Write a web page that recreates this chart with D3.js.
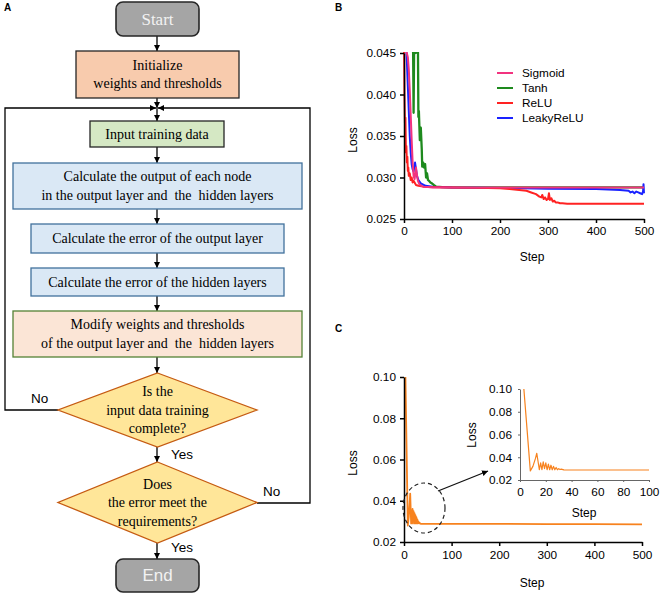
<!DOCTYPE html>
<html><head><meta charset="utf-8">
<script src="https://cdn.jsdelivr.net/npm/d3@7/dist/d3.min.js"></script>
<style>
body{margin:0;background:#fff;}
svg{display:block;}
.sans{font-family:"Liberation Sans",Arial,sans-serif;}
.serif{font-family:"Liberation Serif","Times New Roman",serif;}
</style></head>
<body>
<svg id="fig" width="660" height="595"></svg>
<script>
// ---------------- DATA ----------------
// Panel A flowchart texts
const flowTexts = {
  start: ["Start"],
  init: ["Initialize", "weights and thresholds"],
  input: ["Input training data"],
  calcOut: ["Calculate the output of each node", "in the output layer and  the  hidden layers"],
  errOut: ["Calculate the error of the output layer"],
  errHid: ["Calculate the error of the hidden layers"],
  modify: ["Modify weights and thresholds", "of the output layer and  the  hidden layers"],
  dec1: ["Is the", "input data training", "complete?"],
  dec2: ["Does", "the error meet the", "requirements?"],
  end: ["End"]
};
const branchLabels = ["No", "Yes", "No", "Yes"];

// Panel B: activation functions
const seriesNames = ["Sigmoid", "Tanh", "ReLU", "LeakyReLU"];
const sigmoidSteps = [2, 5, 8, 10, 12, 14, 16, 18, 20, 22, 24, 25, 27, 29, 32, 36, 40, 50, 60, 80, 100, 200, 300, 400, 500];
const sigmoidLoss  = [0.0465, 0.0452, 0.0445, 0.0430, 0.0405, 0.0375, 0.0345, 0.0318, 0.0302, 0.0298, 0.0306, 0.0312, 0.0303, 0.0296, 0.0292, 0.0290, 0.0289, 0.02885, 0.0288, 0.0288, 0.0288, 0.0288, 0.0288, 0.0288, 0.0288];
const tanhSteps = [18, 19, 20, 21, 22, 24, 26, 28, 29, 30, 31, 33, 35, 37, 38, 40, 42, 44, 46, 48, 50, 52, 55, 58, 62, 67, 80, 100, 200, 300, 400, 500];
const tanhLoss  = [0.0465, 0.0450, 0.0378, 0.0450, 0.0455, 0.0450, 0.0455, 0.0450, 0.0460, 0.0373, 0.0380, 0.0345, 0.0360, 0.0334, 0.0313, 0.0318, 0.0312, 0.0316, 0.0300, 0.0305, 0.0297, 0.0296, 0.0294, 0.0293, 0.0291, 0.0289, 0.02885, 0.0288, 0.0288, 0.0288, 0.0288, 0.0288];
const reluSteps = [0, 1, 2, 3, 4, 5, 6, 7, 8, 9, 10, 12, 14, 16, 18, 20, 25, 30, 40, 50, 100, 150, 200, 220, 240, 255, 265, 275, 282, 286, 288, 291, 294, 297, 300, 302, 304, 307, 310, 313, 316, 320, 325, 330, 340, 400, 450, 500];
const reluLoss  = [0.0465, 0.0400, 0.0365, 0.0372, 0.0330, 0.0338, 0.0318, 0.0325, 0.0308, 0.0312, 0.0302, 0.0305, 0.0297, 0.0300, 0.0294, 0.0296, 0.0291, 0.0290, 0.0289, 0.02885, 0.0288, 0.02875, 0.0287, 0.0286, 0.0285, 0.0284, 0.0282, 0.0280, 0.0277, 0.0276, 0.0279, 0.0274, 0.0276, 0.0273, 0.0274, 0.0281, 0.0273, 0.0275, 0.0271, 0.0272, 0.0270, 0.0270, 0.0269, 0.0269, 0.02685, 0.02685, 0.02685, 0.02685];
const leakySteps = [4, 6, 8, 10, 12, 14, 16, 18, 20, 22, 23, 25, 27, 30, 35, 45, 60, 100, 200, 300, 400, 450, 468, 472, 476, 480, 484, 488, 492, 496, 498, 499, 500];
const leakyLoss  = [0.0465, 0.0440, 0.0410, 0.0380, 0.0350, 0.0330, 0.0316, 0.0310, 0.0307, 0.0314, 0.0318, 0.0310, 0.0302, 0.0297, 0.0293, 0.0290, 0.0289, 0.0288, 0.02875, 0.02865, 0.0286, 0.02850, 0.0284, 0.0282, 0.0283, 0.0281, 0.0283, 0.0282, 0.0281, 0.0280, 0.0283, 0.0292, 0.0281];
const bYTicks = [0.025, 0.030, 0.035, 0.040, 0.045];
const bXTicks = [0, 100, 200, 300, 400, 500];

// Panel C: training loss
const cSteps = [3, 8, 10, 12, 13, 15, 16, 17, 18, 19, 20, 21, 22, 23, 24, 25, 26, 27, 28, 29, 30, 31, 32, 34, 36, 40, 50, 100, 200, 300, 400, 500];
const cLoss  = [0.100, 0.028, 0.032, 0.039, 0.0435, 0.029, 0.035, 0.029, 0.036, 0.030, 0.035, 0.029, 0.034, 0.029, 0.033, 0.029, 0.032, 0.029, 0.031, 0.029, 0.030, 0.0292, 0.0295, 0.0289, 0.0288, 0.0288, 0.0288, 0.0288, 0.0288, 0.0287, 0.0287, 0.0285];
const cYTicks = [0.02, 0.04, 0.06, 0.08, 0.10];
const cXTicks = [0, 100, 200, 300, 400, 500];
const insetXTicks = [0, 20, 40, 60, 80, 100];

// ---------------- DRAW ----------------
const svg = d3.select("#fig");
const defs = svg.append("defs");
defs.append("marker").attr("id", "arr").attr("viewBox", "0 0 10 10")
  .attr("refX", 10).attr("refY", 5).attr("markerWidth", 6).attr("markerHeight", 6)
  .attr("orient", "auto-start-reverse").attr("markerUnits", "userSpaceOnUse")
  .append("path").attr("d", "M0,0 L10,5 L0,10 z").attr("fill", "#000");

// panel letters
[["A", 4, 11], ["B", 335, 11], ["C", 335, 332]].forEach(([t, x, y]) =>
  svg.append("text").attr("class", "sans").attr("x", x).attr("y", y)
    .attr("font-size", 10).attr("font-weight", "bold").text(t));

// ---------- Panel A: flowchart ----------
const A = svg.append("g");
const cx = 157;
function box(x0, y0, x1, y1, fill, stroke, lines, opts = {}) {
  A.append("rect").attr("x", x0).attr("y", y0).attr("width", x1 - x0).attr("height", y1 - y0)
    .attr("rx", opts.rx || 0).attr("fill", fill).attr("stroke", stroke).attr("stroke-width", opts.sw || 1.3);
  const fs = opts.fs || 14, lh = opts.lh || 18;
  const cy = (y0 + y1) / 2;
  lines.forEach((l, i) => {
    A.append("text").attr("class", opts.cls || "serif").attr("x", (x0 + x1) / 2)
      .attr("y", cy + (i - (lines.length - 1) / 2) * lh)
      .attr("dy", "0.35em").attr("text-anchor", "middle").attr("font-size", fs)
      .attr("fill", opts.color || "#000").style("white-space", "pre").text(l);
  });
}
function diamond(x0, x1, y0, y1, lines) {
  const mx = (x0 + x1) / 2, my = (y0 + y1) / 2;
  A.append("path").attr("d", `M${mx},${y0} L${x1},${my} L${mx},${y1} L${x0},${my} Z`)
    .attr("fill", "#ffe699").attr("stroke", "#c55a11").attr("stroke-width", 1.3);
  lines.forEach((l, i) => A.append("text").attr("class", "serif").attr("x", mx)
    .attr("y", my + (i - 1) * 18.5).attr("dy", "0.35em").attr("text-anchor", "middle")
    .attr("font-size", 14).text(l));
}
function arrow(pts) {
  A.append("path").attr("d", d3.line()(pts)).attr("fill", "none").attr("stroke", "#000")
    .attr("stroke-width", 1.3).attr("marker-end", "url(#arr)");
}

// connectors
arrow([[cx, 36], [cx, 51]]);
arrow([[cx, 98], [cx, 108]]);
arrow([[cx, 108], [cx, 121]]);
arrow([[cx, 147], [cx, 163]]);
arrow([[cx, 209], [cx, 224]]);
arrow([[cx, 253], [cx, 268]]);
arrow([[cx, 296], [cx, 311]]);
arrow([[cx, 357], [cx, 373]]);
arrow([[cx, 447], [cx, 462]]);
arrow([[cx, 543], [cx, 559]]);
// loops
arrow([[58, 410], [5, 410], [5, 108], [cx - 1, 108]]);
arrow([[257, 503], [310, 503], [310, 108], [cx + 1, 108]]);

box(116, 2, 199, 36, "#a5a5a5", "#262626", flowTexts.start, { rx: 7, fs: 17, color: "#f2f2f2", sw: 1.6 });
box(76, 51, 239, 98, "#f8cbad", "#262626", flowTexts.init, { fs: 14, lh: 18 });
box(90, 121, 224, 147, "#d5e8c4", "#262626", flowTexts.input, { fs: 14 });
box(13, 163, 302, 209, "#dae8f5", "#41719c", flowTexts.calcOut, { fs: 14, lh: 19 });
box(31, 224, 284, 253, "#dae8f5", "#41719c", flowTexts.errOut, { fs: 14 });
box(31, 268, 284, 296, "#dae8f5", "#41719c", flowTexts.errHid, { fs: 14 });
box(13, 311, 302, 357, "#fbe5d6", "#548235", flowTexts.modify, { fs: 14, lh: 19 });
diamond(58, 257, 373, 447, flowTexts.dec1);
diamond(58, 257, 462, 543, flowTexts.dec2);
box(116, 559, 199, 592, "#a5a5a5", "#262626", flowTexts.end, { rx: 7, fs: 17, color: "#f2f2f2", cls: "sans", sw: 1.6 });

[[branchLabels[0], 31, 403], [branchLabels[1], 171, 459], [branchLabels[2], 263, 496], [branchLabels[3], 171, 552]]
  .forEach(([t, x, y]) => A.append("text").attr("class", "sans").attr("x", x).attr("y", y)
    .attr("font-size", 13.5).text(t));

// ---------- Panel B ----------
const B = svg.append("g").attr("class", "sans");
const xB = d3.scaleLinear().domain([0, 500]).range([404, 644]);
const yB = d3.scaleLinear().domain([0.025, 0.045]).range([219, 53]);
defs.append("clipPath").attr("id", "clipB").append("rect")
  .attr("x", 403).attr("y", 52).attr("width", 245).attr("height", 168);
const bColors = ["#f2337f", "#1e8a1e", "#ff2222", "#1a22ff"];
const bData = [
  d3.zip(sigmoidSteps, sigmoidLoss),
  d3.zip(tanhSteps, tanhLoss),
  d3.zip(reluSteps, reluLoss),
  d3.zip(leakySteps, leakyLoss)
];
const lineB = d3.line().x(d => xB(d[0])).y(d => yB(d[1]));
const drawOrder = [1, 3, 2, 0];
const gl = B.append("g").attr("clip-path", "url(#clipB)");
drawOrder.forEach(i => gl.append("path").attr("d", lineB(bData[i])).attr("fill", "none")
  .attr("stroke", bColors[i]).attr("stroke-width", i === 1 ? 2.3 : 2).attr("stroke-linejoin", "round"));

function styleAxis(g, sw, col) {
  g.selectAll("path,line").attr("stroke", col || "#000").attr("stroke-width", sw);
  g.selectAll("text").attr("fill", "#000").attr("font-family", "Liberation Sans, Arial, sans-serif");
}
const bx = B.append("g").attr("transform", "translate(0,219)")
  .call(d3.axisBottom(xB).tickValues(bXTicks).tickSize(4).tickSizeOuter(0).tickPadding(4));
bx.attr("font-size", 11.8); styleAxis(bx, 1.5);
const by = B.append("g").attr("transform", "translate(404,0)")
  .call(d3.axisLeft(yB).tickValues(bYTicks).tickFormat(d3.format(".3f")).tickSize(4).tickSizeOuter(0).tickPadding(4));
by.attr("font-size", 11.8); styleAxis(by, 1.5);
B.append("text").attr("x", 532).attr("y", 261).attr("text-anchor", "middle").attr("font-size", 12).text("Step");
B.append("text").attr("transform", "translate(357,140) rotate(-90)").attr("text-anchor", "middle").attr("font-size", 12).text("Loss");

const leg = B.append("g");
seriesNames.forEach((n, i) => {
  const y = 73 + i * 15;
  leg.append("line").attr("x1", 497).attr("x2", 513).attr("y1", y).attr("y2", y)
    .attr("stroke", bColors[i]).attr("stroke-width", 2);
  leg.append("text").attr("x", 522).attr("y", y).attr("dy", "0.35em").attr("font-size", 11.8).text(n);
});

// ---------- Panel C ----------
const C = svg.append("g").attr("class", "sans");
const cData = d3.zip(cSteps, cLoss);
const orange = "#f7821e";
const xC = d3.scaleLinear().domain([0, 500]).range([404, 642]);
const yC = d3.scaleLinear().domain([0.02, 0.10]).range([542, 377]);
C.append("path").attr("d", d3.line().x(d => xC(d[0])).y(d => yC(d[1]))(cData))
  .attr("fill", "none").attr("stroke", orange).attr("stroke-width", 1.8).attr("stroke-linejoin", "round");
const cx_ = C.append("g").attr("transform", "translate(0,542)")
  .call(d3.axisBottom(xC).tickValues(cXTicks).tickSize(4).tickSizeOuter(0).tickPadding(5));
cx_.attr("font-size", 11.8); styleAxis(cx_, 1.5);
const cy_ = C.append("g").attr("transform", "translate(404,0)")
  .call(d3.axisLeft(yC).tickValues(cYTicks).tickFormat(d3.format(".2f")).tickSize(4).tickSizeOuter(0).tickPadding(4));
cy_.attr("font-size", 11.8); styleAxis(cy_, 1.5);
C.append("text").attr("x", 532).attr("y", 587).attr("text-anchor", "middle").attr("font-size", 12).text("Step");
C.append("text").attr("transform", "translate(357,463) rotate(-90)").attr("text-anchor", "middle").attr("font-size", 12).text("Loss");

// inset
const xI = d3.scaleLinear().domain([0, 100]).range([520, 649]);
const yI = d3.scaleLinear().domain([0.02, 0.10]).range([480, 389]);
C.append("path").attr("d", d3.line().x(d => xI(d[0])).y(d => yI(d[1]))(cData.filter(d => d[0] <= 100)))
  .attr("fill", "none").attr("stroke", orange).attr("stroke-width", 1.2).attr("stroke-linejoin", "round");
const ix = C.append("g").attr("transform", "translate(0,480)")
  .call(d3.axisBottom(xI).tickValues(insetXTicks).tickSize(2).tickSizeOuter(0).tickPadding(6));
ix.attr("font-size", 11.8); styleAxis(ix, 1, "#666");
const iy = C.append("g").attr("transform", "translate(520,0)")
  .call(d3.axisLeft(yI).tickValues(cYTicks).tickFormat(d3.format(".2f")).tickSize(2).tickSizeOuter(0).tickPadding(6));
iy.attr("font-size", 11.8); styleAxis(iy, 1, "#666");
C.append("text").attr("x", 584).attr("y", 517).attr("text-anchor", "middle").attr("font-size", 12).text("Step");
C.append("text").attr("transform", "translate(476,435) rotate(-90)").attr("text-anchor", "middle").attr("font-size", 12).text("Loss");

// zoom ellipse and arrow
C.append("ellipse").attr("cx", 424).attr("cy", 508).attr("rx", 21).attr("ry", 25)
  .attr("fill", "none").attr("stroke", "#222").attr("stroke-width", 1.2).attr("stroke-dasharray", "4,3");
C.append("path").attr("d", "M438,491 L488,471").attr("stroke", "#111").attr("stroke-width", 1.3)
  .attr("marker-end", "url(#arr)");
</script>
</body></html>
